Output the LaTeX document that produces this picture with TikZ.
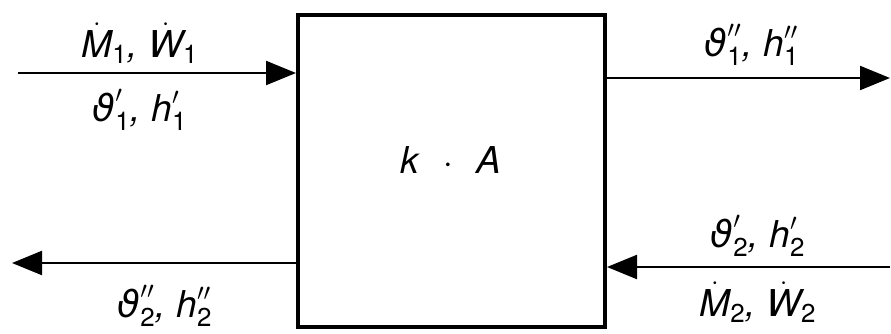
\documentclass[tikz,border=0pt]{standalone}
\usepackage{amsmath}
\usepackage{fontspec}
\setsansfont{TeX Gyre Heros}
\newfontfamily\dvfont{DejaVu Sans}
\usetikzlibrary{arrows.meta}
\newcommand{\vi}[1]{\text{\sffamily\itshape #1}}
\newcommand{\vth}{\text{\dvfont\itshape ϑ}}
\newcommand{\ix}[1]{\text{\sffamily\upshape #1}}
\newcommand{\cm}{\text{\sffamily\itshape ,}\ }
\begin{document}
\begin{tikzpicture}[x=0.5pt,y=-0.5pt,
  flow/.style={line width=1.1pt,-{Triangle[length=15pt,width=12pt]}},
  lbl/.style={font=\fontsize{18.5}{22}\selectfont\sffamily\itshape, inner sep=0pt},
  box/.style={draw, line width=2pt, minimum width=153.5pt, minimum height=156pt, inner sep=0pt}]
\useasboundingbox (0,0) rectangle (891,333);
\node[box] (hx) at (451.5,171) {};
\node[lbl] (ka) at (451,160) {$\vi{k}\ \,\cdot\ \,\vi{A}$};
% inputs / outputs
\coordinate (inL) at (18,73);
\coordinate (outR) at (890,78);
\coordinate (outL) at (12,263);
\coordinate (inR) at (890,267);
\coordinate (r1) at (hx.east |- outR);
\coordinate (l2) at (hx.west |- outL);
\draw[flow] (inL) -- (hx.west |- inL);
\draw[flow] (r1) -- (outR);
\draw[flow] (l2) -- (outL);
\draw[flow] (inR) -- (hx.east |- inR);
% labels
\node[lbl] (m1) at (140,43) {$\dot{\vi{M}}_{\ix{1}}\cm\dot{\vi{W}}_{\ix{1}}$};
\node[lbl] (t1) at (140,110) {$\vth'_{\ix{1}}\cm\vi{h}'_{\ix{1}}$};
\node[lbl] (t1o) at (752,45) {$\vth''_{\ix{1}}\cm\vi{h}''_{\ix{1}}$};
\node[lbl] (t2) at (758,236) {$\vth'_{\ix{2}}\cm\vi{h}'_{\ix{2}}$};
\node[lbl] (m2) at (758,302) {$\dot{\vi{M}}_{\ix{2}}\cm\dot{\vi{W}}_{\ix{2}}$};
\node[lbl] (t2o) at (165,306) {$\vth''_{\ix{2}}\cm\vi{h}''_{\ix{2}}$};
\end{tikzpicture}
\end{document}
